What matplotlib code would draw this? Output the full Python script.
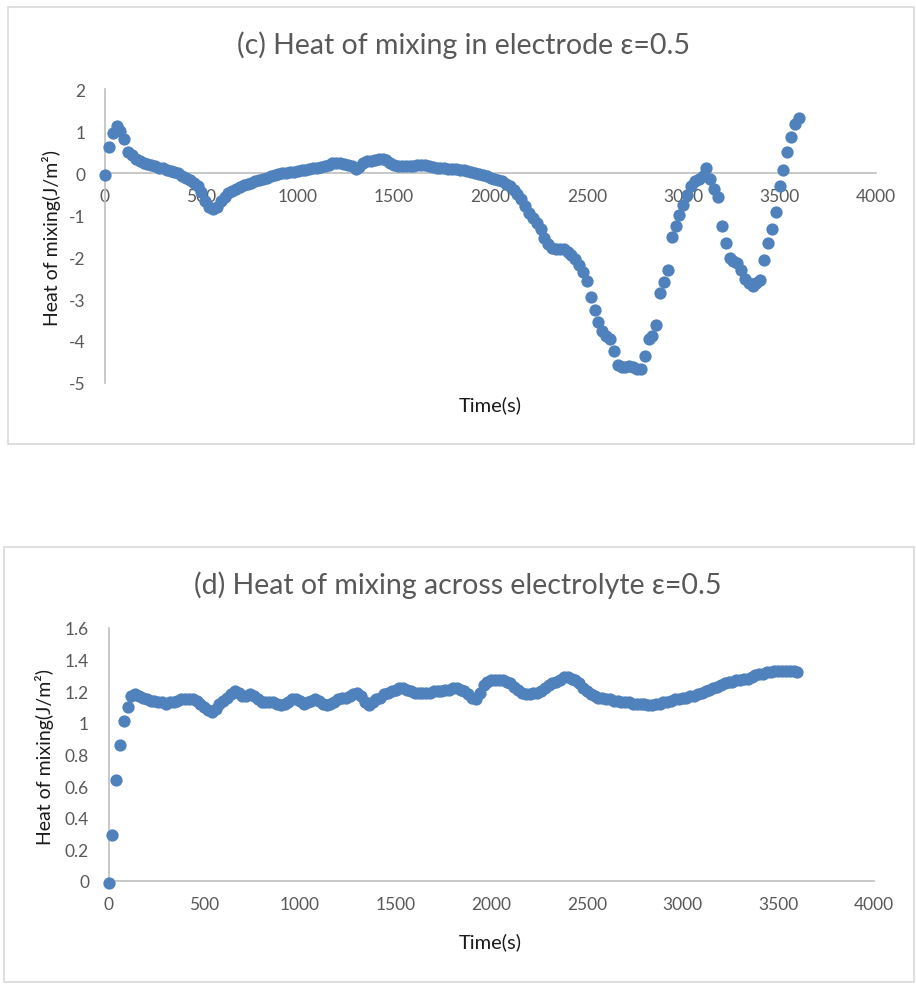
import numpy as np
import matplotlib
matplotlib.use("Agg")
import matplotlib.pyplot as plt
from matplotlib.patches import Rectangle

W, H = 916, 987
DPI = 100

# sampling times (s), one point every 20 s
time_s = np.arange(0, 3601, 20)

# (c) heat of mixing in electrode, J/m^2
electrode_heat = [
    -0.05, 0.63, 0.95, 1.12, 1.00, 0.82, 0.50, 0.42, 0.33, 0.28,
    0.25, 0.21, 0.18, 0.16, 0.13, 0.11, 0.08, 0.05, 0.02, -0.01,
    -0.06, -0.11, -0.16, -0.23, -0.32, -0.46, -0.66, -0.80, -0.86, -0.80,
    -0.66, -0.56, -0.48, -0.42, -0.38, -0.33, -0.29, -0.26, -0.23, -0.20,
    -0.17, -0.14, -0.11, -0.08, -0.05, -0.03, -0.01, 0.00, 0.02, 0.03,
    0.05, 0.06, 0.08, 0.09, 0.11, 0.12, 0.14, 0.16, 0.19, 0.23,
    0.25, 0.23, 0.21, 0.20, 0.16, 0.10, 0.15, 0.24, 0.28, 0.29,
    0.30, 0.33, 0.33, 0.30, 0.25, 0.20, 0.17, 0.16, 0.16, 0.16,
    0.17, 0.19, 0.19, 0.18, 0.17, 0.15, 0.13, 0.12, 0.11, 0.10,
    0.10, 0.09, 0.08, 0.06, 0.04, 0.02, 0.00, -0.02, -0.05, -0.08,
    -0.11, -0.14, -0.17, -0.20, -0.25, -0.31, -0.40, -0.50, -0.62, -0.78,
    -0.95, -1.08, -1.20, -1.34, -1.55, -1.68, -1.78, -1.81, -1.81, -1.82,
    -1.88, -1.95, -2.05, -2.18, -2.36, -2.58, -2.95, -3.25, -3.55, -3.75,
    -3.88, -3.95, -4.23, -4.58, -4.62, -4.63, -4.60, -4.62, -4.66, -4.66,
    -4.35, -3.95, -3.88, -3.63, -2.86, -2.60, -2.30, -1.53, -1.27, -1.00,
    -0.75, -0.52, -0.32, -0.20, -0.14, -0.08, 0.11, -0.14, -0.38, -0.56,
    -1.25, -1.67, -2.03, -2.10, -2.15, -2.30, -2.52, -2.62, -2.68, -2.62,
    -2.55, -2.06, -1.67, -1.33, -0.92, -0.32, 0.07, 0.51, 0.86, 1.17,
    1.30,
]

# (d) heat of mixing across electrolyte, J/m^2
electrolyte_heat = [
    -0.01, 0.29, 0.64, 0.86, 1.01, 1.10, 1.17, 1.18, 1.17, 1.16,
    1.15, 1.14, 1.14, 1.13, 1.13, 1.12, 1.13, 1.13, 1.14, 1.15,
    1.15, 1.15, 1.15, 1.14, 1.12, 1.10, 1.08, 1.07, 1.09, 1.12,
    1.14, 1.16, 1.18, 1.20, 1.19, 1.17, 1.17, 1.18, 1.17, 1.15,
    1.13, 1.13, 1.13, 1.13, 1.12, 1.11, 1.12, 1.13, 1.15, 1.15,
    1.14, 1.12, 1.13, 1.14, 1.15, 1.14, 1.12, 1.11, 1.12, 1.13,
    1.15, 1.16, 1.16, 1.17, 1.18, 1.19, 1.17, 1.13, 1.11, 1.13,
    1.15, 1.16, 1.18, 1.19, 1.20, 1.21, 1.22, 1.22, 1.21, 1.20,
    1.19, 1.19, 1.19, 1.19, 1.19, 1.20, 1.20, 1.20, 1.21, 1.21,
    1.22, 1.22, 1.21, 1.20, 1.18, 1.16, 1.15, 1.19, 1.24, 1.26,
    1.27, 1.27, 1.27, 1.27, 1.26, 1.25, 1.23, 1.21, 1.19, 1.18,
    1.18, 1.19, 1.19, 1.20, 1.22, 1.24, 1.25, 1.26, 1.27, 1.29,
    1.29, 1.28, 1.27, 1.25, 1.22, 1.20, 1.18, 1.17, 1.16, 1.16,
    1.15, 1.15, 1.14, 1.14, 1.13, 1.13, 1.13, 1.12, 1.12, 1.12,
    1.12, 1.11, 1.11, 1.12, 1.12, 1.13, 1.13, 1.14, 1.15, 1.15,
    1.16, 1.16, 1.17, 1.17, 1.18, 1.19, 1.20, 1.21, 1.22, 1.23,
    1.24, 1.25, 1.26, 1.26, 1.27, 1.27, 1.28, 1.28, 1.29, 1.30,
    1.31, 1.31, 1.32, 1.32, 1.33, 1.33, 1.33, 1.33, 1.33, 1.33,
    1.32,
]

x_ticks = [0, 500, 1000, 1500, 2000, 2500, 3000, 3500, 4000]
electrode_ticks = [2, 1, 0, -1, -2, -3, -4, -5]
electrolyte_ticks = [1.6, 1.4, 1.2, 1.0, 0.8, 0.6, 0.4, 0.2, 0.0]

BLUE = "#4F81BD"
AXIS_GREY = "#BFBFBF"
FRAME_GREY = "#D9D9D9"
TEXT_GREY = "#595959"
FONT = ["Lato", "DejaVu Sans"]

plt.rcParams["font.family"] = FONT
plt.rcParams["axes.unicode_minus"] = False


def fx(x):
    return x / W


def fy(y):
    return 1 - y / H


def draw_panel(fig, frame, axes_px, values, ylim, yticks, title, title_xy,
               ylabel_xy, xlabel_xy):
    # light grey chart-area border
    x0, y0, x1, y1 = frame
    fig.patches.append(Rectangle((fx(x0), fy(y1)), (x1 - x0) / W, (y1 - y0) / H,
                                 transform=fig.transFigure, fill=False,
                                 edgecolor=FRAME_GREY, linewidth=1.2))

    ax0, ay0, ax1, ay1 = axes_px
    ax = fig.add_axes([fx(ax0), fy(ay1), (ax1 - ax0) / W, (ay1 - ay0) / H])
    ax.scatter(time_s, values, s=78, color=BLUE, linewidths=0, zorder=3,
               clip_on=False)

    ax.set_xlim(0, 4000)
    ax.set_ylim(*ylim)
    ax.set_xticks(x_ticks)
    ax.set_xticklabels([str(t) for t in x_ticks])
    ax.set_yticks(yticks)
    ax.set_yticklabels([f"{v:g}" for v in yticks])

    ax.spines["top"].set_visible(False)
    ax.spines["right"].set_visible(False)
    ax.spines["bottom"].set_position(("data", 0))
    for side in ("left", "bottom"):
        ax.spines[side].set_color(AXIS_GREY)
        ax.spines[side].set_linewidth(1.2)
    ax.tick_params(axis="both", length=0, labelsize=12.5, labelcolor=TEXT_GREY)
    ax.tick_params(axis="x", pad=11)
    ax.tick_params(axis="y", pad=14)

    fig.text(fx(title_xy[0]), fy(title_xy[1]), title, ha="center", va="center",
             fontsize=20.5, color=TEXT_GREY)
    fig.text(fx(ylabel_xy[0]), fy(ylabel_xy[1]), "Heat of mixing(J/m²)",
             ha="center", va="center", rotation=90, fontsize=14,
             color="#1A1A1A")
    fig.text(fx(xlabel_xy[0]), fy(xlabel_xy[1]), "Time(s)", ha="center",
             va="center", fontsize=14.5, color="#1A1A1A")
    return ax


fig = plt.figure(figsize=(W / DPI, H / DPI), dpi=DPI)

draw_panel(fig, (8, 8, 914, 445), (105, 90, 876, 384), electrode_heat,
           (-5, 2), electrode_ticks,
           "(c) Heat of mixing in electrode ε=0.5",
           (464, 45), (52, 238), (490, 405))

draw_panel(fig, (4, 548, 914, 983), (108.5, 629, 874, 882), electrolyte_heat,
           (0, 1.6), electrolyte_ticks,
           "(d) Heat of mixing across electrolyte ε=0.5",
           (458, 585), (45, 757), (490, 942))

fig.savefig("out.png", dpi=DPI)
